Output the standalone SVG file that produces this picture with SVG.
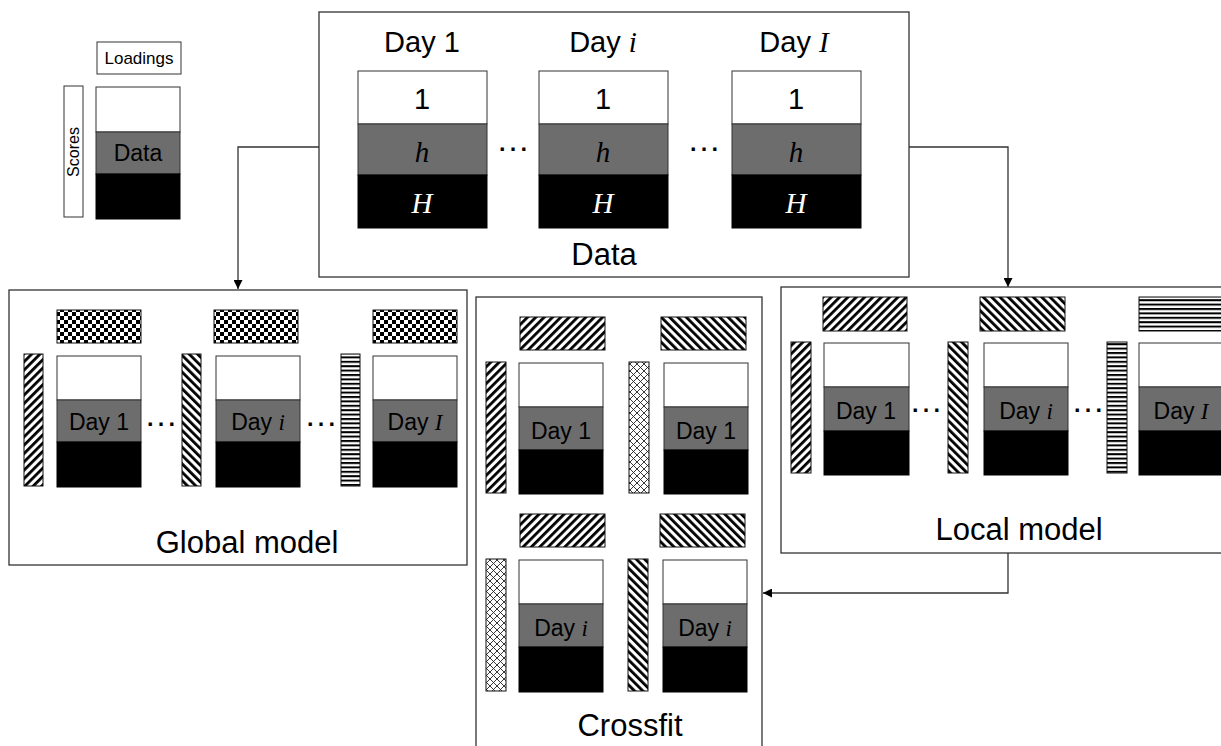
<svg xmlns="http://www.w3.org/2000/svg" width="1221" height="746" viewBox="0 0 1221 746">
<style>
.box{fill:#fff;stroke:#333;stroke-width:1.3}
.w{fill:#fff;stroke:#333;stroke-width:1}
.g{fill:#6d6d6d;stroke:#333;stroke-width:1}
.k{fill:#000;stroke:#000;stroke-width:1}
.pat{stroke:#111;stroke-width:1}
.t{font-family:"Liberation Sans",Arial,sans-serif;fill:#000;text-anchor:middle}
.m{font-family:"Liberation Serif","Times New Roman",serif;font-style:italic}
.title{font-size:31px}
.day{font-size:29px}
.sd{font-size:23px}
.dots{font-family:"Liberation Sans",Arial,sans-serif;font-size:34px;fill:#000;text-anchor:middle}
.conn{fill:none;stroke:#333;stroke-width:1.3}
</style>
<defs>
<pattern id="checker" width="8" height="8" patternUnits="userSpaceOnUse">
<rect width="8" height="8" fill="#fff"/>
<rect width="4" height="4" fill="#000"/>
<rect x="4" y="4" width="4" height="4" fill="#000"/>
</pattern>
<pattern id="fwd" width="5.9" height="10" patternUnits="userSpaceOnUse" patternTransform="rotate(45)">
<rect width="5.9" height="10" fill="#fff"/>
<rect width="2.8" height="10" fill="#000"/>
</pattern>
<pattern id="bwd" width="5.9" height="10" patternUnits="userSpaceOnUse" patternTransform="rotate(-45)">
<rect width="5.9" height="10" fill="#fff"/>
<rect width="2.8" height="10" fill="#000"/>
</pattern>
<pattern id="hor" width="10" height="4.4" patternUnits="userSpaceOnUse">
<rect width="10" height="4.4" fill="#fff"/>
<rect width="10" height="2" fill="#000"/>
</pattern>
<pattern id="cross" width="7" height="7" patternUnits="userSpaceOnUse">
<rect width="7" height="7" fill="#fff"/>
<path d="M0,0 L7,7 M7,0 L0,7" stroke="#222" stroke-width="0.9"/>
</pattern>
<marker id="arr" viewBox="0 0 10 10" refX="10" refY="5" markerWidth="9" markerHeight="9" markerUnits="userSpaceOnUse" orient="auto">
<path d="M0,0 L10,5 L0,10 Z" fill="#000"/>
</marker>
</defs>

<g id="connectors">
<path class="conn" d="M319,147 H238 V289" marker-end="url(#arr)"/>
<path class="conn" d="M909,147 H1008 V287" marker-end="url(#arr)"/>
<path class="conn" d="M1008,553 V593 H763" marker-end="url(#arr)"/>
</g>

<g id="legend">
<rect class="w" x="97" y="42" width="84" height="32"/>
<text class="t" x="139" y="64" font-size="17">Loadings</text>
<rect class="w" x="64" y="86" width="19" height="131"/>
<text class="t" x="0" y="0" font-size="16" transform="translate(79,152) rotate(-90)">Scores</text>
<rect class="w" x="96" y="87" width="84" height="45"/>
<rect class="g" x="96" y="132" width="84" height="42"/>
<rect class="k" x="96" y="174" width="84" height="45"/>
<text class="t sd" x="138" y="161">Data</text>
</g>

<g id="data">
<rect class="box" x="319" y="12" width="590" height="265"/>
<text class="t day" x="422" y="52">Day 1</text>
<text class="t day" x="603" y="52">Day <tspan class="m">i</tspan></text>
<text class="t day" x="794" y="52">Day <tspan class="m">I</tspan></text>
<g>
<rect class="w" x="358" y="71" width="129" height="53"/>
<rect class="g" x="358" y="124" width="129" height="51"/>
<rect class="k" x="358" y="175" width="129" height="53"/>
<text class="t day" x="422" y="109">1</text>
<text class="t m" x="422" y="162" font-size="29">h</text>
<text class="t m" x="422" y="213" font-size="29" style="fill:#fff">H</text>
</g>
<g>
<rect class="w" x="539" y="71" width="129" height="53"/>
<rect class="g" x="539" y="124" width="129" height="51"/>
<rect class="k" x="539" y="175" width="129" height="53"/>
<text class="t day" x="603" y="109">1</text>
<text class="t m" x="603" y="162" font-size="29">h</text>
<text class="t m" x="603" y="213" font-size="29" style="fill:#fff">H</text>
</g>
<g>
<rect class="w" x="732" y="71" width="129" height="53"/>
<rect class="g" x="732" y="124" width="129" height="51"/>
<rect class="k" x="732" y="175" width="129" height="53"/>
<text class="t day" x="796" y="109">1</text>
<text class="t m" x="796" y="162" font-size="29">h</text>
<text class="t m" x="796" y="213" font-size="29" style="fill:#fff">H</text>
</g>
<text class="dots" x="513" y="151">…</text>
<text class="dots" x="704" y="151">…</text>
<text class="t title" x="604" y="265">Data</text>
</g>

<g id="global-model">
<rect class="box" x="9" y="290" width="458" height="275"/>
<rect class="pat" x="57" y="310" width="84" height="33" fill="url(#checker)"/>
<rect class="pat" x="24" y="354" width="19" height="132" fill="url(#fwd)"/>
<rect class="w" x="57" y="356" width="84" height="44"/>
<rect class="g" x="57" y="400" width="84" height="42"/>
<rect class="k" x="57" y="442" width="84" height="45"/>
<text class="t sd" x="99" y="430">Day 1</text>
<text class="dots" x="161" y="426">…</text>
<rect class="pat" x="214" y="310" width="84" height="33" fill="url(#checker)"/>
<rect class="pat" x="182" y="354" width="19" height="132" fill="url(#bwd)"/>
<rect class="w" x="216" y="356" width="84" height="44"/>
<rect class="g" x="216" y="400" width="84" height="42"/>
<rect class="k" x="216" y="442" width="84" height="45"/>
<text class="t sd" x="258" y="430">Day <tspan class="m">i</tspan></text>
<text class="dots" x="321" y="426">…</text>
<rect class="pat" x="373" y="310" width="84" height="33" fill="url(#checker)"/>
<rect class="pat" x="341" y="354" width="19" height="132" fill="url(#hor)"/>
<rect class="w" x="373" y="356" width="84" height="44"/>
<rect class="g" x="373" y="400" width="84" height="42"/>
<rect class="k" x="373" y="442" width="84" height="45"/>
<text class="t sd" x="415" y="430">Day <tspan class="m">I</tspan></text>
<text class="t title" x="247" y="553">Global model</text>
</g>

<g id="crossfit">
<rect class="box" x="476" y="297" width="286" height="470"/>
<rect class="pat" x="520" y="317" width="85" height="33" fill="url(#fwd)"/>
<rect class="pat" x="661" y="317" width="85" height="33" fill="url(#bwd)"/>
<rect class="pat" x="486" y="362" width="20" height="131" fill="url(#fwd)"/>
<rect class="w" x="519" y="363" width="84" height="44"/>
<rect class="g" x="519" y="407" width="84" height="43"/>
<rect class="k" x="519" y="450" width="84" height="44"/>
<text class="t sd" x="561" y="439">Day 1</text>
<rect class="pat" x="629" y="362" width="20" height="131" fill="url(#cross)"/>
<rect class="w" x="664" y="363" width="84" height="44"/>
<rect class="g" x="664" y="407" width="84" height="43"/>
<rect class="k" x="664" y="450" width="84" height="44"/>
<text class="t sd" x="706" y="439">Day 1</text>
<rect class="pat" x="520" y="514" width="85" height="33" fill="url(#fwd)"/>
<rect class="pat" x="660" y="514" width="85" height="33" fill="url(#bwd)"/>
<rect class="pat" x="486" y="559" width="20" height="132" fill="url(#cross)"/>
<rect class="w" x="519" y="560" width="84" height="44"/>
<rect class="g" x="519" y="604" width="84" height="43"/>
<rect class="k" x="519" y="647" width="84" height="45"/>
<text class="t sd" x="561" y="636">Day <tspan class="m">i</tspan></text>
<rect class="pat" x="628" y="559" width="20" height="132" fill="url(#bwd)"/>
<rect class="w" x="663" y="560" width="84" height="44"/>
<rect class="g" x="663" y="604" width="84" height="43"/>
<rect class="k" x="663" y="647" width="84" height="45"/>
<text class="t sd" x="705" y="636">Day <tspan class="m">i</tspan></text>
<text class="t title" x="630" y="736">Crossfit</text>
</g>

<g id="local-model">
<rect class="box" x="781" y="287" width="460" height="266"/>
<rect class="pat" x="823" y="297" width="84" height="34" fill="url(#fwd)"/>
<rect class="pat" x="980" y="297" width="85" height="34" fill="url(#bwd)"/>
<rect class="pat" x="1139" y="297" width="90" height="34" fill="url(#hor)"/>
<rect class="pat" x="791" y="342" width="20" height="131" fill="url(#fwd)"/>
<rect class="w" x="824" y="343" width="85" height="44"/>
<rect class="g" x="824" y="387" width="85" height="44"/>
<rect class="k" x="824" y="431" width="85" height="44"/>
<text class="t sd" x="866" y="419">Day 1</text>
<text class="dots" x="926" y="412">…</text>
<rect class="pat" x="948" y="342" width="20" height="131" fill="url(#bwd)"/>
<rect class="w" x="984" y="343" width="84" height="44"/>
<rect class="g" x="984" y="387" width="84" height="44"/>
<rect class="k" x="984" y="431" width="84" height="44"/>
<text class="t sd" x="1026" y="419">Day <tspan class="m">i</tspan></text>
<text class="dots" x="1088" y="412">…</text>
<rect class="pat" x="1107" y="342" width="20" height="131" fill="url(#hor)"/>
<rect class="w" x="1139" y="343" width="90" height="44"/>
<rect class="g" x="1139" y="387" width="90" height="44"/>
<rect class="k" x="1139" y="431" width="90" height="44"/>
<text class="t sd" x="1181" y="419">Day <tspan class="m">I</tspan></text>
<text class="t title" x="1019" y="540">Local model</text>
</g>
</svg>
